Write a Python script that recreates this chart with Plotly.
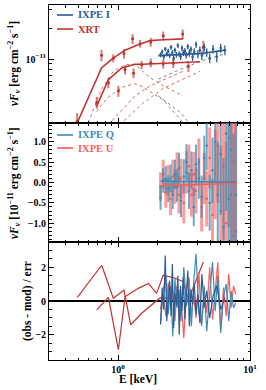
import plotly.graph_objects as go
from plotly.subplots import make_subplots

# ---------------- data (fluxes in 1e-11 erg cm^-2 s^-1, energies in keV) ----------------
# XRT observation A (brighter)
xrt_a_E = [0.49, 0.75, 0.92, 1.11, 1.29, 1.47, 1.77, 2.20, 3.09]
xrt_a_F = [0.25, 1.09, 1.02, 1.13, 1.57, 1.41, 1.46, 1.68, 1.75]
xrt_a_err = [0.05, 0.14, 0.09, 0.12, 0.17, 0.12, 0.14, 0.17, 0.18]
# XRT observation B (fainter)
xrt_b_E = [0.69, 0.845, 1.006, 1.13, 1.31, 1.51, 1.77, 2.20, 2.62, 3.41, 4.43]
xrt_b_F = [0.38, 0.59, 0.49, 0.79, 0.73, 0.88, 0.92, 0.90, 0.91, 0.85, 1.30]
xrt_b_err = [0.05, 0.07, 0.06, 0.08, 0.08, 0.08, 0.09, 0.09, 0.09, 0.10, 0.20]

# XRT models
xrt_a_mod_E = [0.49, 0.75, 0.92, 1.13, 1.345, 1.75, 2.20, 3.10]
xrt_a_tot = [0.24, 0.82, 1.02, 1.22, 1.34, 1.51, 1.54, 1.57]
xrt_a_comp1 = [0.13, 0.51, 0.76, 0.88, 0.89, 0.66, 0.55, 0.44]
xrt_a_comp2 = [0.03, 0.15, 0.26, 0.35, 0.44, 0.55, 0.63, 0.76]
xrt_b_mod_E = [0.686, 0.845, 1.067, 1.345, 1.53, 2.20, 4.17]
xrt_b_tot = [0.345, 0.63, 0.82, 0.89, 0.89, 0.91, 0.94]
xrt_b_comp1 = [0.31, 0.43, 0.53, 0.577, 0.54, 0.40, 0.16]
xrt_b_comp2 = [0.05, 0.12, 0.24, 0.32, 0.37, 0.52, 0.76]

# IXPE I
ixpe_I_E = [2.10, 2.16, 2.22, 2.28, 2.34, 2.40, 2.46, 2.52, 2.58, 2.64, 2.70, 2.77,
            2.84, 2.91, 2.98, 3.05, 3.13, 3.21, 3.29, 3.38, 3.47, 3.57, 3.67, 3.78,
            3.90, 4.03, 4.17, 4.32, 4.50, 4.70, 4.95, 5.25, 5.60, 6.00, 6.45]
ixpe_I_F = [1.10, 1.18, 1.05, 1.25, 1.12, 1.20, 1.08, 1.30, 1.15, 1.02, 1.22, 1.10,
            1.35, 1.12, 1.06, 1.28, 1.15, 1.20, 1.09, 1.32, 1.14, 1.24, 1.05, 1.18,
            1.38, 1.12, 1.22, 1.08, 1.30, 1.16, 1.02, 1.25, 1.05, 1.28, 1.22]
ixpe_I_err = [0.06, 0.06, 0.06, 0.06, 0.06, 0.06, 0.06, 0.07, 0.07, 0.07, 0.07, 0.07,
              0.07, 0.07, 0.08, 0.08, 0.08, 0.08, 0.08, 0.08, 0.09, 0.09, 0.09, 0.09,
              0.10, 0.10, 0.10, 0.10, 0.11, 0.11, 0.11, 0.12, 0.12, 0.13, 0.13]
ixpe_mod_E = [2.02, 3.0, 4.3, 6.45]
ixpe_I_tot = [1.08, 1.10, 1.13, 1.22]
ixpe_I_comp1 = [0.64, 0.80, 0.96, 1.12]
ixpe_I_comp2 = [0.44, 0.30, 0.17, 0.10]

# IXPE Q / U
ixpe_QU_E = [2.1, 2.2, 2.3, 2.4, 2.5, 2.6, 2.7, 2.8, 2.9, 3.0, 3.15, 3.3, 3.45, 3.6,
             3.75, 3.9, 4.1, 4.3, 4.5, 4.7, 4.95, 5.2, 5.45, 5.7, 6.0, 6.3, 6.6, 6.9,
             7.2, 7.5, 7.8]
ixpe_Q = [-0.37, 0.05, 0.08, -0.15, 0.10, -0.30, 0.20, -0.10, 0.35, -0.45, 0.15, 0.50,
          -0.20, 0.30, -0.60, 0.45, 0.10, -0.35, 0.60, 0.90, -0.50, 0.30, 1.00, -0.30,
          0.70, -1.10, 1.20, -0.40, 0.80, -1.30, -0.30]
ixpe_Q_err = [0.30, 0.30, 0.32, 0.33, 0.34, 0.35, 0.36, 0.37, 0.38, 0.40, 0.42, 0.44,
              0.45, 0.46, 0.47, 0.48, 0.50, 0.52, 0.55, 0.60, 0.68, 0.80, 1.00, 1.30,
              1.50, 1.70, 1.90, 2.10, 2.30, 2.50, 2.80]
ixpe_U = [-0.10, 0.20, -0.25, 0.05, -0.40, 0.15, -0.10, 0.30, -0.30, 0.10, -0.50, 0.25,
          0.40, -0.30, 0.20, -0.20, 0.50, -0.60, 0.10, -0.40, 0.60, -0.80, 0.20, 0.90,
          -0.70, 0.40, -1.00, 1.10, -0.30, 0.50, -1.20]
ixpe_U_err = [0.35, 0.36, 0.37, 0.38, 0.40, 0.41, 0.42, 0.44, 0.46, 0.48, 0.50, 0.52,
              0.53, 0.54, 0.55, 0.56, 0.58, 0.60, 0.63, 0.68, 0.75, 0.90, 1.10, 1.40,
              1.60, 1.80, 2.00, 2.20, 2.40, 2.60, 2.90]
ixpe_QU_mod_E = [2.1, 7.9]
ixpe_Q_mod = [0.03, 0.01]
ixpe_U_mod = [-0.08, -0.02]

# residuals
xrt_a_res_E = [0.492, 0.752, 0.921, 1.11, 1.247, 1.51, 2.08, 2.62, 3.13]
xrt_a_res = [0.22, 2.12, 0.16, 0.65, -1.41, -0.73, 0.18, 0.15, 0.17]
xrt_b_res_E = [0.690, 0.845, 1.006, 1.13, 1.233, 1.425, 1.70, 1.96, 2.20, 2.62, 3.13, 3.41, 4.43]
xrt_b_res = [-0.53, 0.22, -2.88, 0.25, 0.45, 0.75, 1.04, 0.45, 1.53, 1.39, 1.14, 0.06, 2.31]
ixpe_I_res = [-1.4, 0.8, -0.5, 2.7, -1.2, 0.3, 1.2, -0.9, 2.2, -1.6, 0.5, -0.3, 1.5, -2.0,
              0.9, -0.6, 1.4, -1.1, 0.2, 1.8, -1.5, 0.7, -0.2, 1.0, -0.8, 0.4, -1.3, 1.6,
              -0.4, 0.6, -1.0, 0.3, 0.9, -0.5, 0.2]
ixpe_Q_res = [-1.3, 0.6, 1.5, -0.8, 0.9, -2.1, 1.3, -0.4, 0.7, -1.2, 2.0, -0.3, 0.8, -1.5,
              1.2, 2.8, -0.7, -1.4, 0.9, -1.8, 0.4, 2.3, -0.6, 1.5, -1.9, 0.3, 1.0, -1.2,
              0.6, -0.4, -0.1]
ixpe_U_res = [-0.5, 0.4, -0.9, 1.1, -0.3, 0.6, -1.2, 0.9, -0.6, 0.2, -2.2, 0.8, 1.4, -0.8,
              0.3, -1.0, 1.7, -1.5, 0.5, -0.7, 2.0, -1.1, 0.6, 2.3, -1.7, 0.8, -0.9, 1.6,
              -0.4, 0.9, 0.4]

x_tickvals = [1, 10]
x_ticktext = ["10<sup>0</sup>", "10<sup>1</sup>"]

# ---------------- styling ----------------
C_XRT = "#c0342f"
C_XRT_ERR = "rgba(192,52,47,0.65)"
C_I = "#2b5c94"
C_Q = "#3b8db4"
C_U = "#ff5a58"
C_U_ERR = "rgba(255,90,88,0.6)"
C_Q_ERR = "rgba(59,141,180,0.75)"
FONT = "Liberation Serif"

L, R, T, B = 49, 16, 5, 30
W = 266 - L - R
H = 390 - T - B


def px(x):
    return (x - L) / W


def py(y):
    return (390 - B - y) / H


fig = make_subplots(rows=3, cols=1, shared_xaxes=True, vertical_spacing=0)


def line(x, y, color, row, width=1.6, dash="solid", opacity=1.0):
    fig.add_trace(go.Scatter(x=x, y=y, mode="lines", line=dict(color=color, width=width, dash=dash),
                             opacity=opacity, showlegend=False, hoverinfo="skip"), row=row, col=1)


def pts(x, y, err, color, errcolor, row, thick=1.5, size=3):
    fig.add_trace(go.Scatter(x=x, y=y, mode="markers", marker=dict(color=color, size=size),
                             error_y=dict(type="data", array=err, color=errcolor, thickness=thick, width=0),
                             showlegend=False, hoverinfo="skip"), row=row, col=1)


# panel 1 components
for comp in (xrt_a_comp1, xrt_a_comp2):
    line(xrt_a_mod_E, comp, C_XRT, 1, width=0.9, dash="dot", opacity=0.8)
for comp in (xrt_b_comp1, xrt_b_comp2):
    line(xrt_b_mod_E, comp, C_XRT, 1, width=0.9, dash="dot", opacity=0.8)
for comp in (ixpe_I_comp1, ixpe_I_comp2):
    line(ixpe_mod_E, comp, C_I, 1, width=0.9, dash="dot", opacity=0.8)
line(xrt_a_mod_E, xrt_a_tot, C_XRT, 1)
line(xrt_b_mod_E, xrt_b_tot, C_XRT, 1)
pts(xrt_a_E, xrt_a_F, xrt_a_err, C_XRT, C_XRT_ERR, 1, thick=2)
pts(xrt_b_E, xrt_b_F, xrt_b_err, C_XRT, C_XRT_ERR, 1, thick=2)
pts(ixpe_I_E, ixpe_I_F, ixpe_I_err, C_I, C_I, 1, thick=1.3, size=2.5)
line(ixpe_mod_E, ixpe_I_tot, C_I, 1)

# panel 2
pts(ixpe_QU_E, ixpe_U, ixpe_U_err, C_U, C_U_ERR, 2, thick=3, size=2.5)
pts(ixpe_QU_E, ixpe_Q, ixpe_Q_err, C_Q, C_Q_ERR, 2, thick=2, size=2.5)
line(ixpe_QU_mod_E, ixpe_Q_mod, C_Q, 2, width=1.6)
line(ixpe_QU_mod_E, ixpe_U_mod, C_U, 2, width=1.6)

# panel 3
line(xrt_a_res_E, xrt_a_res, C_XRT, 3, width=1.2)
line(xrt_b_res_E, xrt_b_res, C_XRT, 3, width=1.2)
line(ixpe_QU_E, ixpe_U_res, C_U, 3, width=1.2)
line(ixpe_QU_E, ixpe_Q_res, C_Q, 3, width=1.2)
line(ixpe_I_E, ixpe_I_res, C_I, 3, width=1.2)

tickfont = dict(family=FONT, size=10, color="black", weight="bold")
common_axis = dict(showline=True, linecolor="black", linewidth=1, mirror="allticks",
                   ticks="inside", ticklen=5, tickwidth=1, tickcolor="black", automargin=False,
                   showgrid=False, zeroline=False, tickfont=tickfont)

xminor = [0.3, 0.4, 0.5, 0.6, 0.7, 0.8, 0.9, 2, 3, 4, 5, 6, 7, 8, 9]
for i, ax in enumerate(["xaxis", "xaxis2", "xaxis3"]):
    fig.layout[ax].update(type="log", range=[-0.523, 1.0], tickvals=x_tickvals, ticktext=x_ticktext,
                          showticklabels=(i == 2),
                          minor=dict(ticks="inside", ticklen=2.5, tickcolor="black", tickvals=xminor),
                          **common_axis)

fig.layout.yaxis.update(type="log", range=[-0.62, 0.524], tickvals=[1], ticktext=["10<sup>−11</sup>"],
                        minor=dict(ticks="inside", ticklen=2.5, tickcolor="black",
                                   tickvals=[0.3, 0.4, 0.5, 0.6, 0.7, 0.8, 0.9, 2, 3]),
                        domain=[py(123), 1.0], **common_axis)
fig.layout.yaxis2.update(range=[-1.46, 1.46], tickvals=[-1.0, -0.5, 0.0, 0.5, 1.0], tickformat=".1f",
                         minor=dict(ticks="inside", ticklen=2.5, tickcolor="black", dtick=0.1, tick0=0),
                         domain=[py(242), py(123)], **common_axis)
ax3 = dict(common_axis)
ax3["zeroline"] = True
fig.layout.yaxis3.update(range=[-3.5, 3.5], tickvals=[-2, 0, 2],
                         minor=dict(ticks="inside", ticklen=2.5, tickcolor="black", dtick=0.5, tick0=0),
                         domain=[0, py(242)], zerolinecolor="black", zerolinewidth=1.5, **ax3)

titlefont = dict(family=FONT, size=11.5, color="black")
anns = [
    dict(text="<b><i>νF</i><sub><i>ν</i></sub> [erg cm<sup>−2</sup> s<sup>−1</sup>]</b>",
         x=px(14), y=py(64), textangle=-90),
    dict(text="<b><i>νF</i><sub><i>ν</i></sub> [10<sup>−11</sup> erg cm<sup>−2</sup> s<sup>−1</sup>]</b>",
         x=px(14), y=py(183), textangle=-90),
    dict(text="<b>(obs - mod) / err</b>", x=px(27), y=py(301), textangle=-90),
    dict(text="<b>E [keV]</b>", x=px(138), y=py(379), textangle=0),
]
for a in anns:
    fig.add_annotation(xref="paper", yref="paper", xanchor="center", yanchor="middle",
                       showarrow=False, font=titlefont, **a)

# legends (manual)
legend_items = [("IXPE I", C_I, 15), ("XRT", C_XRT, 29), ("IXPE Q", C_Q, 135), ("IXPE U", C_U, 148)]
for name, col, yy in legend_items:
    fig.add_shape(type="line", xref="paper", yref="paper", x0=px(57), x1=px(73), y0=py(yy), y1=py(yy),
                  line=dict(color=col, width=1.6))
    fig.add_annotation(xref="paper", yref="paper", x=px(76), y=py(yy), xanchor="left", yanchor="middle",
                       text="<b>" + name + "</b>", showarrow=False,
                       font=dict(family=FONT, size=10.5, color=col))

fig.update_layout(width=266, height=390, margin=dict(l=L, r=R, t=T, b=B),
                  paper_bgcolor="white", plot_bgcolor="white", showlegend=False)

fig.write_html("out.html", config={"displayModeBar": False},
               post_script="document.body.style.margin='0';document.body.style.padding='0';")
